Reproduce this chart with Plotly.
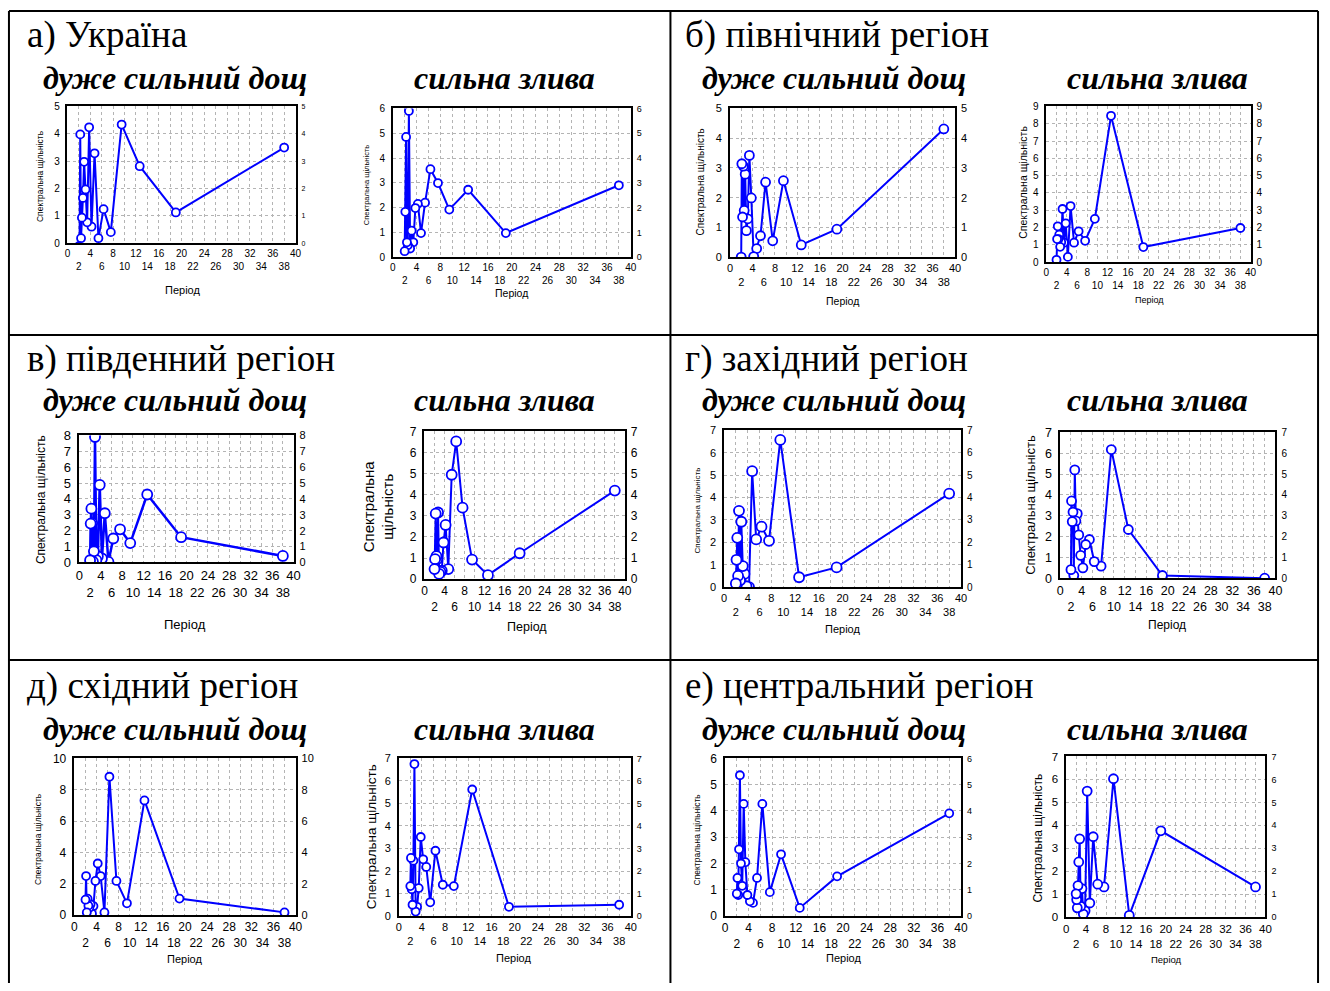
import plotly.graph_objects as go

# ---------------- data ----------------
PERIODS = [38.0, 19.0, 12.67, 9.5, 7.6, 6.33, 5.43, 4.75, 4.22, 3.8,
           3.45, 3.17, 2.92, 2.71, 2.53, 2.38, 2.24, 2.11, 2.0]

UA_RAIN = [3.5, 1.13, 2.82, 4.34, 0.41, 1.25, 0.19, 3.29, 0.61, 4.24,
           0.77, 1.97, 2.98, 1.66, 0.94, 0.19, 3.98, -0.3, -0.1]
UA_SHOWER = [2.9, 0.97, 2.72, 1.92, 2.99, 3.55, 2.2, 0.97, 2.15, 1.98,
             0.6, 1.07, 0.35, 5.9, 0.48, 0.6, 4.85, 1.83, 0.24]
NORTH_RAIN = [4.31, 0.94, 0.41, 2.57, 0.55, 2.52, 0.72, 0.29, 0.02, 1.99,
              3.42, 1.29, 0.89, 2.79, 1.57, 3.06, 1.35, 3.14, 0.0]
NORTH_SHOWER = [1.97, 0.87, 8.46, 2.5, 1.23, 1.78, 1.12, 3.24, 0.3, 2.24,
                1.12, 3.07, 1.15, 0.88, 1.59, 1.33, 2.07, 1.33, 0.13]
SOUTH_RAIN = [0.41, 1.59, 4.28, 1.22, 2.09, 1.51, 0.04, 3.1, 0.25, 4.88,
              0.39, 0.15, 7.9, 0.7, 0.05, 2.48, 3.39, 2.45, 0.14]
SOUTH_SHOWER = [4.2, 1.23, 0.19, 0.93, 3.39, 6.53, 4.95, 0.48, 2.57, 1.74,
                0.4, 0.35, 0.25, 3.16, 0.95, 1.09, 3.11, 0.95, 0.48]
WEST_RAIN = [4.18, 0.88, 0.44, 6.58, 2.07, 2.7, 2.13, 5.18, 0.0, 0.03,
             0.59, 0.94, 2.92, 0.3, 3.41, 0.5, 2.2, 1.22, 0.16]
WEST_SHOWER = [0.0, 0.13, 2.34, 6.18, 0.58, 0.8, 1.86, 1.62, 0.5, 1.1,
               2.08, 3.1, 2.75, 5.2, 0.13, 3.18, 2.72, 3.71, 0.41]
EAST_RAIN = [0.17, 1.05, 7.32, 0.75, 2.18, 8.83, 0.17, 2.49, 3.29, 2.18,
             0.57, 0.1, 0.69, 0.46, 0.6, 1.05, 0.17, 2.49, 0.98]
EAST_SHOWER = [0.5, 0.41, 5.62, 1.33, 1.39, 2.9, 0.61, 2.18, 2.52, 3.51,
               1.24, 0.41, 0.2, 6.75, 2.46, 0.5, 1.19, 2.58, 1.33]
CENTER_RAIN = [3.91, 1.51, 0.31, 2.35, 0.91, 4.27, 1.45, 0.5, 0.56, 0.8,
               2.05, 4.27, 1.15, 2.0, 5.36, 2.54, 0.8, 1.45, 0.85]
CENTER_SHOWER = [1.31, 3.76, 0.07, 6.03, 1.31, 1.43, 3.5, 0.61, 5.49, 0.27,
                 0.13, 1.24, 0.47, 3.41, 2.4, 1.37, 0.4, 0.76, 1.01]

SERIES = [UA_RAIN, UA_SHOWER, NORTH_RAIN, NORTH_SHOWER,
          SOUTH_RAIN, SOUTH_SHOWER, WEST_RAIN, WEST_SHOWER,
          EAST_RAIN, EAST_SHOWER, CENTER_RAIN, CENTER_SHOWER]

PANEL_TITLES = ["а) Україна", "б) північний регіон", "в) південний регіон",
                "г) західний регіон", "д) східний регіон", "е) центральний регіон"]
SUB_TITLES = ["дуже сильний дощ", "сильна злива"]
Y_TITLE = "Спектральна щільність"
Y_TITLE_2LINE = "Спектральна<br>щільність"
X_TITLE = "Період"

XTICKS_TOP = [0, 4, 8, 12, 16, 20, 24, 28, 32, 36, 40]
XTICKS_BOTTOM = [2, 6, 10, 14, 18, 22, 26, 30, 34, 38]
Y_MAX = [5, 6, 5, 9, 8, 7, 7, 7, 10, 7, 6, 7]
Y_DTICK = [1, 1, 1, 1, 1, 1, 1, 1, 2, 1, 1, 1]

# ---------------- layout specs (page pixels) ----------------
W, H = 1330, 991


def px(x):
    return x / W


def py(y):
    return 1 - y / H


# x0, x1, y0, y1, tick font, right tick font, ytitle font, xtitle font,
# ytitle pos, xtitle pos, marker size, line width
SPECS = [
    (64, 294, 101, 240, 10, 7, 8.5, 11, (37, 172), (180, 287), 8, 2),
    (392, 632, 103, 254, 10, 9, 7.5, 10.5, (365, 180), (512, 290), 8, 2),
    (732, 959, 103, 254, 11, 11, 10, 10.5, (702, 178), (845, 299), 9, 2),
    (1051, 1257, 101, 259, 10, 10, 10.5, 9, (1028, 178), (1155, 298), 8, 2),
    (76, 292, 435, 564, 13, 11, 12, 13, (38, 500), (183, 627), 10, 2.5),
    (424, 626, 431, 581, 12, 12, 15, 12.5, (377, 507), (527, 630), 10, 2),
    (726, 965, 430, 589, 11, 10, 8, 11, (699, 511), (845, 632), 10, 2),
    (1065, 1282, 432, 580, 12.5, 10, 13, 12, (1035, 505), (1173, 628), 9, 2),
    (71, 294, 763, 922, 12, 11, 8.5, 11, (34, 845), (182, 967), 8, 2),
    (398, 632, 763, 923, 11, 9, 13.5, 11, (370, 842), (514, 966), 8, 2),
    (727, 965, 763, 923, 12, 9, 8.5, 11, (699, 845), (847, 966), 8, 2),
    (1071, 1272, 761, 924, 11.5, 9, 12, 9.5, (1043, 844), (1172, 967), 9, 2),
]

PANEL_TITLE_POS = [(21, 28), (685, 28), (21, 357), (685, 357), (21, 689), (685, 689)]
SUB_Y = [72, 399, 733]
SUB_X = [(172, 505), (837, 1163)]

BLUE = "#0000ff"
SANS = "Liberation Sans, Arial, sans-serif"
SERIF = "Liberation Serif, Times New Roman, serif"

fig = go.Figure()

xtickvals = sorted(XTICKS_TOP + XTICKS_BOTTOM)
xticktext = [str(v) if v in XTICKS_TOP else "<br>" + str(v) for v in xtickvals]

annotations = []
layout_axes = {}
for i, (vals, sp) in enumerate(zip(SERIES, SPECS)):
    (x0, x1, y0, y1, tf, rtf, ytf, xtf, ytp, xtp, ms, lw) = sp
    n = i + 1
    ya = 2 * i + 1
    yb = 2 * i + 2
    fig.add_trace(go.Scatter(
        x=PERIODS, y=vals, mode="lines+markers",
        line=dict(color=BLUE, width=lw),
        marker=dict(symbol="circle", size=ms, color="white",
                    line=dict(color=BLUE, width=1.8)),
        xaxis=f"x{n}", yaxis=f"y{ya}", showlegend=False, cliponaxis=True))
    fig.add_trace(go.Scatter(
        x=PERIODS, y=vals, mode="lines", line=dict(width=0),
        opacity=0, hoverinfo="skip",
        xaxis=f"x{n}", yaxis=f"y{yb}", showlegend=False))
    gridstyle = dict(showgrid=True, gridcolor="#b4b4b4", griddash="dot", gridwidth=1)
    layout_axes[f"xaxis{n}"] = dict(
        domain=[px(x0), px(x1)], anchor=f"y{ya}", range=[0, 40],
        tickmode="array", tickvals=xtickvals, ticktext=xticktext,
        tickangle=0, ticks="", showline=True, mirror=True,
        linecolor="black", linewidth=1.5, zeroline=False,
        tickfont=dict(family=SANS, size=tf, color="black"), **gridstyle)
    layout_axes[f"yaxis{ya}"] = dict(
        domain=[py(y1), py(y0)], anchor=f"x{n}", range=[0, Y_MAX[i]],
        dtick=Y_DTICK[i], tick0=0, ticks="", showline=True, mirror=True,
        linecolor="black", linewidth=1.5, zeroline=False, ticklabelstandoff=4,
        tickfont=dict(family=SANS, size=tf, color="black"), **gridstyle)
    layout_axes[f"yaxis{yb}"] = dict(
        overlaying=f"y{ya}", side="right", anchor=f"x{n}", range=[0, Y_MAX[i]],
        dtick=Y_DTICK[i], tick0=0, ticks="", showgrid=False, zeroline=False,
        showline=False, ticklabelstandoff=5,
        tickfont=dict(family=SANS, size=rtf, color="black"))
    ytext = Y_TITLE_2LINE if n == 6 else Y_TITLE
    annotations.append(dict(
        text=ytext, x=px(ytp[0]), y=py(ytp[1]), xref="paper", yref="paper",
        xanchor="center", yanchor="middle", textangle=-90, showarrow=False,
        font=dict(family=SANS, size=ytf, color="black")))
    annotations.append(dict(
        text=X_TITLE, x=px(xtp[0]), y=py(xtp[1]), xref="paper", yref="paper",
        xanchor="center", yanchor="middle", showarrow=False,
        font=dict(family=SANS, size=xtf, color="black")))

for k, (txt, pos) in enumerate(zip(PANEL_TITLES, PANEL_TITLE_POS)):
    annotations.append(dict(
        text=txt, x=px(pos[0]), y=py(pos[1]), xref="paper", yref="paper",
        xanchor="left", yanchor="middle", showarrow=False,
        font=dict(family=SERIF, size=37, color="black")))
    row, col = k // 2, k % 2
    for j, sub in enumerate(SUB_TITLES):
        annotations.append(dict(
            text=f"<b><i>{sub}</i></b>", x=px(SUB_X[col][j]), y=py(SUB_Y[row]),
            xref="paper", yref="paper", xanchor="center", yanchor="middle",
            showarrow=False, font=dict(family=SERIF, size=32, color="black")))

shapes = []
border = dict(type="line", xref="paper", yref="paper", line=dict(color="black", width=2))
for (xa, ya_, xb, yb_) in [(5, 4, 5, 991), (1325, 4, 1325, 991), (672, 4, 672, 991),
                           (5, 4, 1325, 4), (5, 333, 1325, 333), (5, 663, 1325, 663)]:
    s = dict(border)
    s.update(x0=px(xa), x1=px(xb), y0=py(ya_), y1=py(yb_))
    shapes.append(s)

fig.update_layout(
    width=W, height=H, margin=dict(l=0, r=0, t=0, b=0),
    paper_bgcolor="white", plot_bgcolor="white",
    annotations=annotations, shapes=shapes, **layout_axes)

fig.write_html(
    "out.html",
    config={"displayModeBar": False},
    post_script=("document.body.style.margin='0';document.body.style.padding='0';"
                 "document.documentElement.style.overflow='hidden';"
                 "document.body.style.overflow='hidden';"))
